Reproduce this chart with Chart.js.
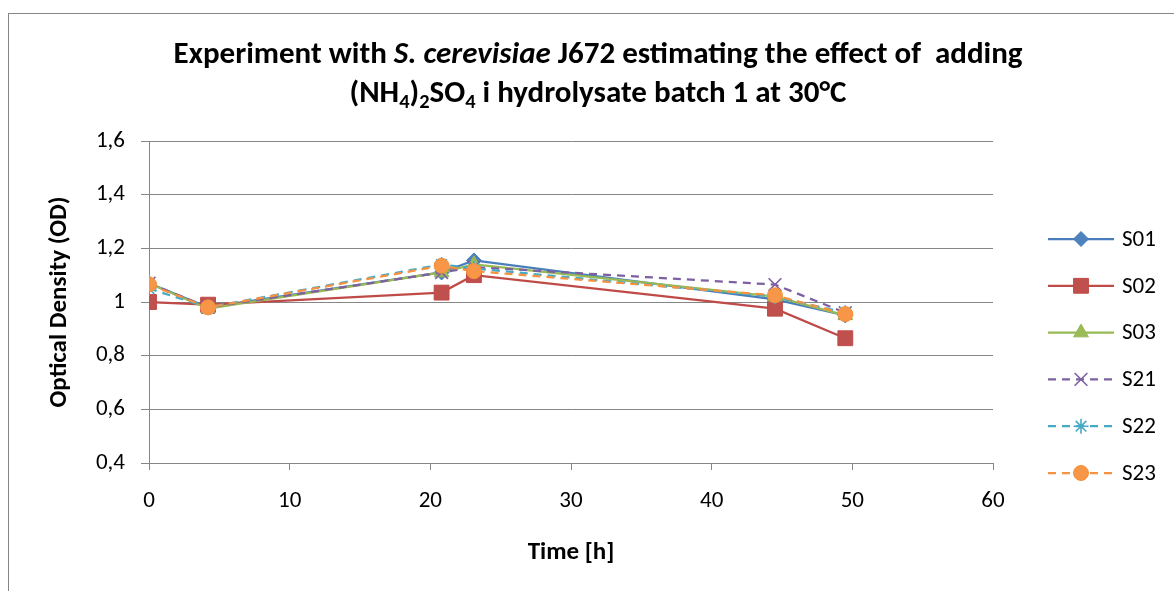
<!DOCTYPE html>
<html>
<head>
<meta charset="utf-8">
<title>S. cerevisiae J672 OD</title>
<script src="https://cdn.jsdelivr.net/npm/chart.js@4.4.0/dist/chart.umd.min.js"></script>
<style>
  html, body { margin: 0; padding: 0; background: #fff; }
  canvas { display: block; }
</style>
</head>
<body>
<canvas id="odChart" width="1174" height="591"></canvas>
<script>
// data
const timeHours = [0, 4.2, 20.8, 23.1, 44.5, 49.5];
const seriesNames = ["S01", "S02", "S03", "S21", "S22", "S23"];
const s01 = [1.07, 0.98, 1.11, 1.155, 1.01, 0.95];
const s02 = [1.00, 0.99, 1.035, 1.10, 0.975, 0.865];
const s03 = [1.07, 0.975, 1.11, 1.14, 1.02, 0.95];
const s21 = [1.07, 0.98, 1.11, 1.13, 1.065, 0.96];
const s22 = [1.05, 0.98, 1.14, 1.125, 1.02, 0.96];
const s23 = [1.065, 0.98, 1.135, 1.115, 1.025, 0.955];
const xTickValues = [0, 10, 20, 30, 40, 50, 60];
const yTickValues = [0.4, 0.6, 0.8, 1.0, 1.2, 1.4, 1.6];

const FONT = "Carlito, Lato, 'Open Sans', sans-serif";
const GREY = "#868686";

Chart.defaults.font.family = FONT;
Chart.defaults.color = "#000";

// looks per series (Excel 2007 palette)
const looks = [
  { color: "#4A7EBB", fill: "#4F81BD", style: "rectRot", radius: 7.5, dash: [] },
  { color: "#BE4B48", fill: "#C0504D", style: "rect", radius: 10.5, dash: [] },
  { color: "#98B954", fill: "#9BBB59", style: "triangle", radius: 8.5, dash: [] },
  { color: "#7D60A0", fill: "#8064A2", style: "crossRot", radius: 9, dash: [8, 6] },
  { color: "#46AAC5", fill: "#4BACC6", style: "star", radius: 7.5, dash: [8, 6] },
  { color: "#F69240", fill: "#F79646", style: "circle", radius: 7.5, dash: [8, 6] },
];
const allValues = [s01, s02, s03, s21, s22, s23];

const datasets = allValues.map((vals, i) => ({
  label: seriesNames[i],
  data: vals.map((v, j) => ({ x: timeHours[j], y: v })),
  borderColor: looks[i].color,
  backgroundColor: looks[i].fill,
  borderWidth: 2.25,
  borderDash: looks[i].dash,
  pointStyle: looks[i].style,
  pointRadius: looks[i].radius,
  pointHoverRadius: looks[i].radius,
  pointBackgroundColor: looks[i].fill,
  pointBorderColor: looks[i].color,
  pointBorderWidth: i >= 3 && i <= 4 ? 1.6 : 1,
  tension: 0,
  order: seriesNames.length - i, // last series on top like Excel
}));

// title with italic part and subscripts
const titleLines = [
  [
    { t: "Experiment with " },
    { t: "S. cerevisiae", i: true },
    { t: " J672 estimating the effect of  adding" },
  ],
  [
    { t: "(NH" }, { t: "4", sub: true }, { t: ")" }, { t: "2", sub: true },
    { t: "SO" }, { t: "4", sub: true }, { t: " i hydrolysate batch 1 at 30°C" },
  ],
];

const titlePlugin = {
  id: "titlePlugin",
  afterDraw(chart) {
    const ctx = chart.ctx;
    const fontFor = (seg, size) =>
      `${seg.i ? "italic " : ""}bold ${seg.sub ? size * 0.66 : size}px ${FONT}`;
    const lineWidth = (line, size) =>
      line.reduce((w, seg) => {
        ctx.font = fontFor(seg, size);
        return w + ctx.measureText(seg.t).width;
      }, 0);
    ctx.save();
    // fit first line to the width seen in the reference
    const size = Math.min(31, (100 * 852) / lineWidth(titleLines[0], 100));
    const baselines = [63, 102];
    const cx = 598;
    ctx.fillStyle = "#000";
    ctx.textBaseline = "alphabetic";
    ctx.textAlign = "left";
    titleLines.forEach((line, k) => {
      let x = cx - lineWidth(line, size) / 2;
      line.forEach((seg) => {
        ctx.font = fontFor(seg, size);
        ctx.fillText(seg.t, x, baselines[k] + (seg.sub ? size * 0.2 : 0));
        x += ctx.measureText(seg.t).width;
      });
    });
    ctx.restore();
  },
};

// outer chart frame (only left and top edges are visible)
const framePlugin = {
  id: "framePlugin",
  beforeDraw(chart) {
    const ctx = chart.ctx;
    ctx.save();
    ctx.fillStyle = "#fff";
    ctx.fillRect(0, 0, chart.width, chart.height);
    ctx.strokeStyle = GREY;
    ctx.lineWidth = 1;
    ctx.strokeRect(8.5, 13.5, chart.width + 20, chart.height + 20);
    ctx.restore();
  },
};

// Excel-like legend: line segment with the marker on it
const legendPlugin = {
  id: "legendPlugin",
  afterDraw(chart) {
    const ctx = chart.ctx;
    const x0 = 1048, x1 = 1114, xm = 1081, xt = 1122;
    const yStart = 239, rowGap = 46.8;
    ctx.save();
    chart.data.datasets.forEach((ds, i) => {
      const y = yStart + i * rowGap;
      ctx.strokeStyle = ds.borderColor;
      ctx.lineWidth = ds.borderWidth;
      ctx.setLineDash(ds.borderDash || []);
      ctx.beginPath();
      ctx.moveTo(x0, y);
      ctx.lineTo(x1, y);
      ctx.stroke();
      ctx.setLineDash([]);
      ctx.fillStyle = ds.pointBackgroundColor;
      ctx.strokeStyle = ds.pointBorderColor;
      ctx.lineWidth = ds.pointBorderWidth;
      Chart.helpers.drawPoint(ctx, {
        pointStyle: ds.pointStyle,
        radius: ds.pointRadius,
        borderWidth: ds.pointBorderWidth,
        rotation: 0,
      }, xm, y);
      ctx.fillStyle = "#000";
      ctx.font = `23px ${FONT}`;
      ctx.textBaseline = "middle";
      ctx.fillText(ds.label, xt, y + 1);
    });
    ctx.restore();
  },
};

const ctx = document.getElementById("odChart").getContext("2d");
const chart = new Chart(ctx, {
  type: "scatter",
  data: { datasets },
  options: {
    responsive: false,
    animation: false,
    devicePixelRatio: 1,
    showLine: true,
    layout: { padding: { left: 45, top: 141, right: 181, bottom: 23 } },
    plugins: {
      legend: { display: false },
      title: { display: false },
      tooltip: { enabled: false },
    },
    scales: {
      x: {
        type: "linear",
        min: 0,
        max: 60,
        afterBuildTicks: (scale) => {
          scale.ticks = xTickValues.map((v) => ({ value: v }));
        },
        afterFit: (scale) => { scale.height = 105; },
        grid: { drawOnChartArea: false, drawTicks: true, tickLength: 7, color: GREY },
        border: { display: true, color: GREY, width: 1 },
        ticks: { font: { size: 23 }, padding: 17, color: "#000", maxRotation: 0 },
        title: {
          display: true,
          text: "Time [h]",
          font: { size: 25, weight: "bold" },
          padding: 0,
          color: "#000",
        },
      },
      y: {
        type: "linear",
        min: 0.4,
        max: 1.6,
        afterBuildTicks: (scale) => {
          scale.ticks = yTickValues.map((v) => ({ value: v }));
        },
        afterFit: (scale) => { scale.width = 104; },
        grid: { drawTicks: true, tickLength: 8, color: GREY },
        border: { display: true, color: GREY, width: 1 },
        ticks: {
          font: { size: 23 },
          padding: 16,
          color: "#000",
          callback: (v) => String(Math.round(v * 10) / 10).replace(".", ","),
        },
        title: {
          display: true,
          text: "Optical Density (OD)",
          font: { size: 25, weight: "bold" },
          padding: 0,
          color: "#000",
        },
      },
    },
  },
  plugins: [framePlugin, titlePlugin, legendPlugin],
});
</script>
</body>
</html>
